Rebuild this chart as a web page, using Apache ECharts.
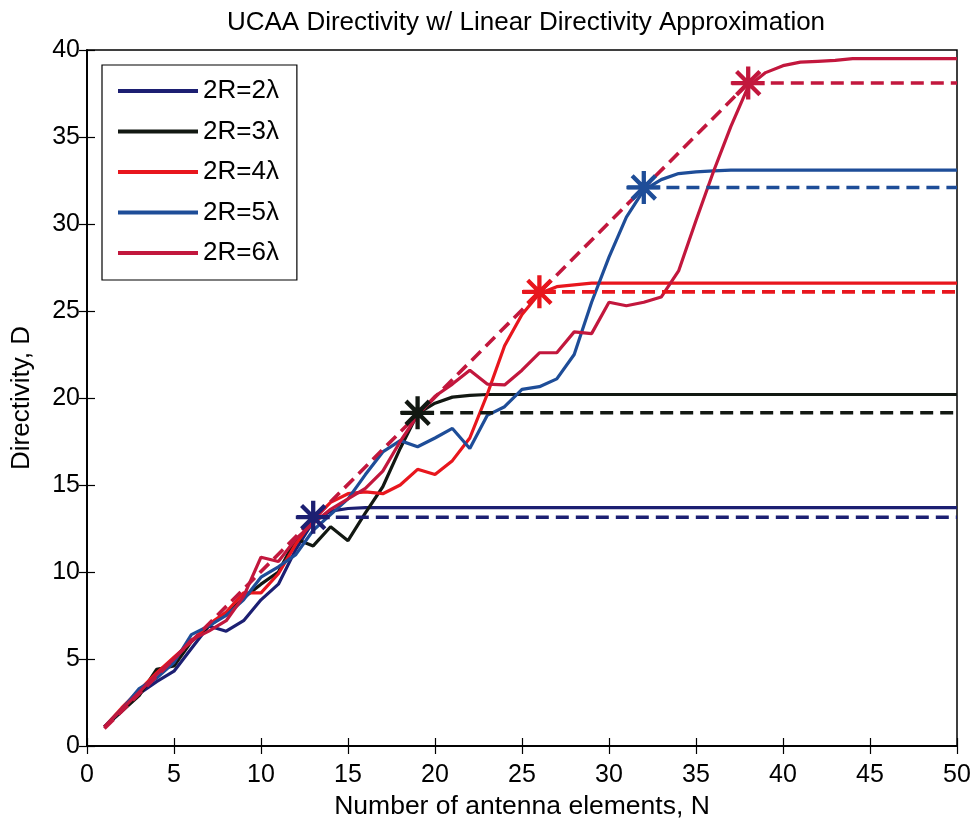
<!DOCTYPE html>
<html>
<head>
<meta charset="utf-8">
<script src="https://cdn.jsdelivr.net/npm/echarts@6/dist/echarts.min.js"></script>
<style>
html,body{margin:0;padding:0;background:#fff;}
#chart{width:977px;height:820px;}
</style>
</head>
<body>
<div id="chart"></div>
<script>
// ---------- data ----------
const nValues = [1,2,3,4,5,6,7,8,9,10,11,12,13,14,15,16,17,18,19,20,21,22,23,24,25,26,27,28,29,30,31,32,33,34,35,36,37,38,39,40,41,42,43,44,45,46,47,48,49,50];
const seriesNames = ['2R=2\u03bb','2R=3\u03bb','2R=4\u03bb','2R=5\u03bb','2R=6\u03bb'];
const seriesColors = ['#1c1f72','#121812','#e8161d','#1e4d98','#c2173d'];

const d2 = [1.1,2.0,3.0,3.7,4.3,5.6,6.9,6.6,7.2,8.4,9.3,11.3,12.9,13.5,13.65,13.7,13.7,13.7,13.7,13.7,13.7,13.7,13.7,13.7,13.7,13.7,13.7,13.7,13.7,13.7,13.7,13.7,13.7,13.7,13.7,13.7,13.7,13.7,13.7,13.7,13.7,13.7,13.7,13.7,13.7,13.7,13.7,13.7,13.7,13.7];
const d3 = [1.1,2.0,2.9,4.4,4.6,6.0,6.9,7.6,8.5,9.3,10.0,11.9,11.5,12.6,11.8,13.4,14.9,17.1,19.1,19.7,20.05,20.15,20.2,20.2,20.2,20.2,20.2,20.2,20.2,20.2,20.2,20.2,20.2,20.2,20.2,20.2,20.2,20.2,20.2,20.2,20.2,20.2,20.2,20.2,20.2,20.2,20.2,20.2,20.2,20.2];
const d4 = [1.1,2.2,3.2,4.2,5.1,6.0,7.0,7.7,8.8,8.8,9.9,11.6,13.0,14.0,14.5,14.6,14.5,15.0,15.9,15.6,16.4,17.7,20.2,23.0,24.8,26.0,26.4,26.5,26.6,26.6,26.6,26.6,26.6,26.6,26.6,26.6,26.6,26.6,26.6,26.6,26.6,26.6,26.6,26.6,26.6,26.6,26.6,26.6,26.6,26.6];
const d5 = [1.1,2.1,3.3,3.9,4.8,6.4,6.9,7.5,8.4,9.7,10.3,11.0,12.4,13.3,14.2,15.6,16.9,17.55,17.2,17.7,18.25,17.1,19.0,19.5,20.5,20.65,21.1,22.5,25.5,28.1,30.4,31.95,32.55,32.9,33.0,33.05,33.1,33.1,33.1,33.1,33.1,33.1,33.1,33.1,33.1,33.1,33.1,33.1,33.1,33.1];
const d6 = [1.1,2.1,3.1,4.1,5.0,6.1,6.6,7.2,8.6,10.85,10.6,11.9,12.8,13.6,14.2,14.8,15.8,17.5,19.0,20.1,20.8,21.6,20.8,20.75,21.6,22.6,22.6,23.8,23.7,25.5,25.3,25.5,25.8,27.3,30.2,33.0,35.6,37.9,38.7,39.1,39.3,39.35,39.4,39.5,39.5,39.5,39.5,39.5,39.5,39.5];
const curves = [d2,d3,d4,d5,d6];

// linear directivity approximation
const approxN = [13,19,26,32,38];             // marker positions (N)
const approxD = [13.15,19.15,26.1,32.1,38.1]; // approximate directivity level
const approxStart = [12,18,25,31,37];         // where each flat dashed line begins
const diagFrom = [1,1];                       // diagonal dashed start (N, D)
const xTicks = [0,5,10,15,20,25,30,35,40,45,50];
const yTicks = [0,5,10,15,20,25,30,35,40];

// ---------- chart ----------
const chart = echarts.init(document.getElementById('chart'), null, {renderer:'canvas'});
const FONT = "'Liberation Sans',Arial,sans-serif";

const asterisk = 'path://M-10,-1.3 L10,-1.3 L10,1.3 L-10,1.3 Z ' +
  'M-1.3,-10 L1.3,-10 L1.3,10 L-1.3,10 Z ' +
  'M-6.15,-7.99 L7.99,6.15 L6.15,7.99 L-7.99,-6.15 Z ' +
  'M-7.99,6.15 L6.15,-7.99 L7.99,-6.15 L-6.15,7.99 Z';

const series = [];
curves.forEach((arr, i) => {
  series.push({
    name: seriesNames[i], type: 'line', symbol: 'none', z: 3,
    data: nValues.map((n, k) => [n, arr[k]]),
    lineStyle: {color: seriesColors[i], width: 3.2},
    itemStyle: {color: seriesColors[i]},
    emphasis: {disabled: true}, animation: false
  });
});
// diagonal dashed (shown in the 6λ colour)
series.push({
  name: 'diag', type: 'line', symbol: 'none', z: 4,
  data: [diagFrom, [approxN[4], approxD[4]]],
  lineStyle: {color: seriesColors[4], width: 3.6, type: [13, 7]},
  emphasis: {disabled: true}, animation: false
});
approxN.forEach((n, i) => {
  series.push({
    name: 'flat' + i, type: 'line', symbol: 'none', z: 4,
    data: [[approxStart[i], approxD[i]], [50, approxD[i]]],
    lineStyle: {color: seriesColors[i], width: 3.6, type: [13, 7]},
    emphasis: {disabled: true}, animation: false
  });
  series.push({
    name: 'mark' + i, type: 'scatter', z: 5,
    symbol: asterisk, symbolSize: 33,
    data: [[n, approxD[i]]],
    itemStyle: {color: seriesColors[i], opacity: 1},
    emphasis: {disabled: true}, animation: false
  });
});

const tickLabel = {fontFamily: FONT, fontSize: 25, color: '#000'};

chart.setOption({
  animation: false,
  backgroundColor: '#fff',
  title: {
    text: 'UCAA Directivity w/ Linear Directivity Approximation',
    left: 521, top: 5, textAlign: 'center',
    textStyle: {fontFamily: FONT, fontSize: 26, fontWeight: 'normal', color: '#000'}
  },
  grid: {left: 87, right: 20, top: 50, bottom: 74, containLabel: false, outerBoundsMode: 'none',
         show: true, borderColor: '#000', borderWidth: 1.5, backgroundColor: '#fff'},
  legend: {
    data: seriesNames, orient: 'vertical', left: 102, top: 65,
    icon: 'rect', itemWidth: 80, itemHeight: 4, itemGap: 14.5, itemTextGap: 11,
    padding: [13, 18, 14, 16],
    borderColor: '#000', borderWidth: 1.2, backgroundColor: '#fff',
    textStyle: {fontFamily: FONT, fontSize: 26, color: '#000'},
    selectedMode: false
  },
  xAxis: [{
    type: 'value', min: 0, max: 50, interval: 5, position: 'bottom',
    axisLine: {show: true, lineStyle: {color: '#000', width: 1.5}},
    axisTick: {show: true, inside: true, length: 8, lineStyle: {color: '#000', width: 1.2}},
    axisLabel: Object.assign({margin: 17, formatter: v => xTicks.includes(v) ? String(v) : ''}, tickLabel),
    splitLine: {show: false},
    name: 'Number of antenna elements, N', nameLocation: 'middle', nameGap: 43,
    nameTextStyle: {fontFamily: FONT, fontSize: 26.5, color: '#000'}
  }, {
    type: 'value', min: 0, max: 50, interval: 5, position: 'top',
    axisLine: {show: true, lineStyle: {color: '#000', width: 1.5}},
    axisTick: {show: true, inside: true, length: 8, lineStyle: {color: '#000', width: 1.2}},
    axisLabel: {show: false}, splitLine: {show: false}
  }],
  yAxis: [{
    type: 'value', min: 0, max: 40, interval: 5, position: 'left',
    axisLine: {show: true, lineStyle: {color: '#000', width: 1.5}},
    axisTick: {show: true, inside: true, length: 8, lineStyle: {color: '#000', width: 1.2}},
    axisLabel: Object.assign({margin: 7, formatter: v => yTicks.includes(v) ? String(v) : ''}, tickLabel),
    splitLine: {show: false},
    name: 'Directivity, D', nameLocation: 'middle', nameGap: 52, nameRotate: 90,
    nameTextStyle: {fontFamily: FONT, fontSize: 26, color: '#000'}
  }, {
    type: 'value', min: 0, max: 40, interval: 5, position: 'right',
    axisLine: {show: true, lineStyle: {color: '#000', width: 1.5}},
    axisTick: {show: true, inside: true, length: 8, lineStyle: {color: '#000', width: 1.2}},
    axisLabel: {show: false}, splitLine: {show: false}
  }],
  series: series
});
</script>
</body>
</html>
